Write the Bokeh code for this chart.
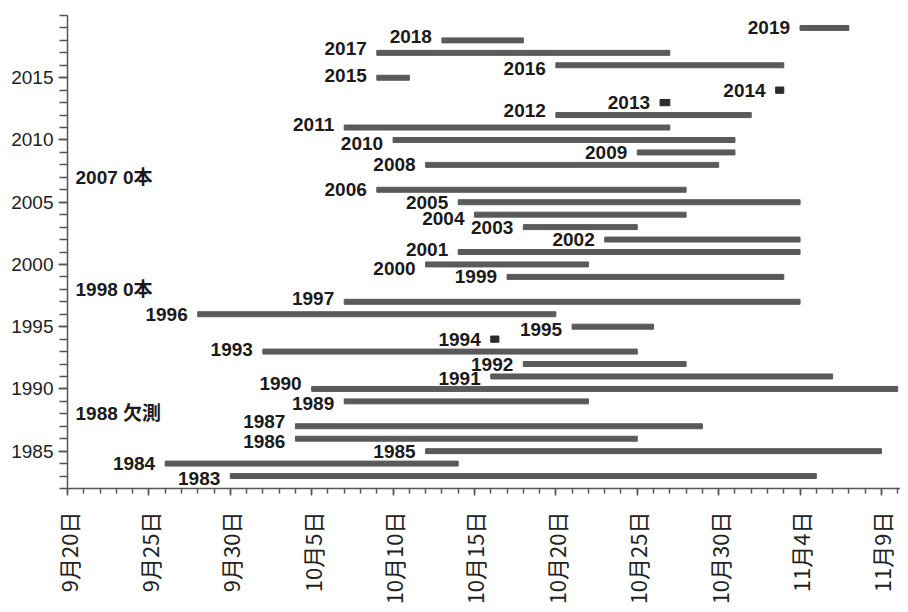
from bokeh.plotting import figure
from bokeh.models import ColumnDataSource, FixedTicker, Range1d
from bokeh.core.properties import value
from bokeh.embed import file_html
from bokeh.resources import INLINE
import math

# ---- data: days counted from 9月20日 (day 0) ----
years = [2019, 2018, 2017, 2016, 2015, 2014, 2013, 2012, 2011, 2010, 2009, 2008,
         2006, 2005, 2004, 2003, 2002, 2001, 2000, 1999, 1997, 1996, 1995, 1994,
         1993, 1992, 1991, 1990, 1989, 1987, 1986, 1985, 1984, 1983]
start_day = [45, 23, 19, 30, 19, 43.5, 36.4, 30, 17, 20, 35, 22,
             19, 24, 25, 28, 33, 24, 22, 27, 17, 8, 31, 26,
             12, 28, 26, 15, 17, 14, 14, 22, 6, 10]
end_day = [48, 28, 37, 44, 21, 44, 37, 42, 37, 41, 41, 40,
           38, 45, 38, 35, 45, 45, 32, 44, 45, 30, 36, 26.5,
           35, 38, 47, 51, 32, 39, 35, 50, 24, 46]
single_day_years = [2014, 2013, 1994]

note_years = [2007, 1998, 1988]
note_texts = ["2007 0本", "1998 0本", "1988 欠測"]

x_tick_days = [0, 5, 10, 15, 20, 25, 30, 35, 40, 45, 50]
x_tick_labels = ["9月20日", "9月25日", "9月30日", "10月5日", "10月10日", "10月15日",
                 "10月20日", "10月25日", "10月30日", "11月4日", "11月9日"]
y_ticks = [1985, 1990, 1995, 2000, 2005, 2010, 2015]

# ---- label nudges (screen px, positive = down) ----
label_dy = {2018: -4, 2017: -4, 2016: 3, 2015: -2, 2012: -5, 2011: -3, 2010: 4,
            2004: 4, 2001: -3, 2000: 4, 1997: -3, 1995: 3, 1993: -2, 1991: 2,
            1990: -5, 1989: 2, 1987: -5, 1986: 3, 1983: 2}

BAR = "#5a5a5a"
DARK = "#2b2b2b"
AXIS = "#555555"
LABEL_FONT = "Liberation Sans, 'Noto Sans CJK JP'"

multi = [i for i, y in enumerate(years) if y not in single_day_years]
single = [i for i, y in enumerate(years) if y in single_day_years]

src_bars = ColumnDataSource(dict(
    y=[years[i] for i in multi],
    left=[start_day[i] for i in multi],
    right=[end_day[i] for i in multi],
))
src_single = ColumnDataSource(dict(
    y=[years[i] for i in single],
    left=[start_day[i] for i in single],
    right=[end_day[i] for i in single],
))
src_labels = ColumnDataSource(dict(
    x=start_day,
    y=years,
    text=[str(y) for y in years],
    dy=[label_dy.get(y, 0) for y in years],
))
src_notes = ColumnDataSource(dict(
    x=[0] * len(note_years),
    y=note_years,
    text=note_texts,
))

p = figure(width=900, height=610, output_backend="svg", toolbar_location=None,
           x_range=Range1d(0, 51.17), y_range=Range1d(1982, 2020),
           min_border_left=67, min_border_right=0, min_border_top=15,
           min_border_bottom=122)
p.outline_line_color = None
p.grid.visible = False
p.background_fill_color = "white"

p.hbar(y="y", left="left", right="right", height=0.4, color=BAR, source=src_bars)
p.hbar(y="y", left="left", right="right", height=0.5, color=DARK, source=src_single)

p.text(x="x", y="y", text="text", source=src_labels, x_offset=-10, y_offset="dy",
       text_align="right", text_baseline="middle", text_font=value(LABEL_FONT),
       text_font_size="19px", text_font_style="bold", text_color="#1a1a1a")
p.text(x="x", y="y", text="text", source=src_notes, x_offset=8,
       text_align="left", text_baseline="middle", text_font=value(LABEL_FONT),
       text_font_size="19px", text_font_style="bold", text_color="#1a1a1a")

# x axis
xa = p.xaxis[0]
xa.ticker = FixedTicker(ticks=x_tick_days, minor_ticks=list(range(0, 52)))
xa.major_label_overrides = {d: t for d, t in zip(x_tick_days, x_tick_labels)}
xa.major_label_orientation = math.pi / 2
xa.major_label_text_font = "Noto Sans CJK JP"
xa.major_label_text_font_size = "22px"
xa.major_label_text_color = "#222222"
xa.major_label_standoff = 16
xa.major_tick_out = 7
xa.major_tick_in = 0
xa.minor_tick_out = 5
xa.minor_tick_in = 0
xa.axis_line_color = AXIS
xa.major_tick_line_color = AXIS
xa.minor_tick_line_color = AXIS
xa.axis_line_width = 1.5
xa.major_tick_line_width = 1.5
xa.minor_tick_line_width = 1.5

# y axis
ya = p.yaxis[0]
ya.ticker = FixedTicker(ticks=y_ticks, minor_ticks=list(range(1982, 2021)))
ya.major_label_text_font = "Liberation Sans"
ya.major_label_text_font_size = "19px"
ya.major_label_text_color = "#222222"
ya.major_label_standoff = 5
ya.major_tick_out = 9
ya.major_tick_in = 0
ya.minor_tick_out = 8
ya.minor_tick_in = 0
ya.axis_line_color = AXIS
ya.major_tick_line_color = AXIS
ya.minor_tick_line_color = AXIS
ya.axis_line_width = 1.5
ya.major_tick_line_width = 1.5
ya.minor_tick_line_width = 1.5

open("out.html", "w").write(file_html(p, INLINE))
